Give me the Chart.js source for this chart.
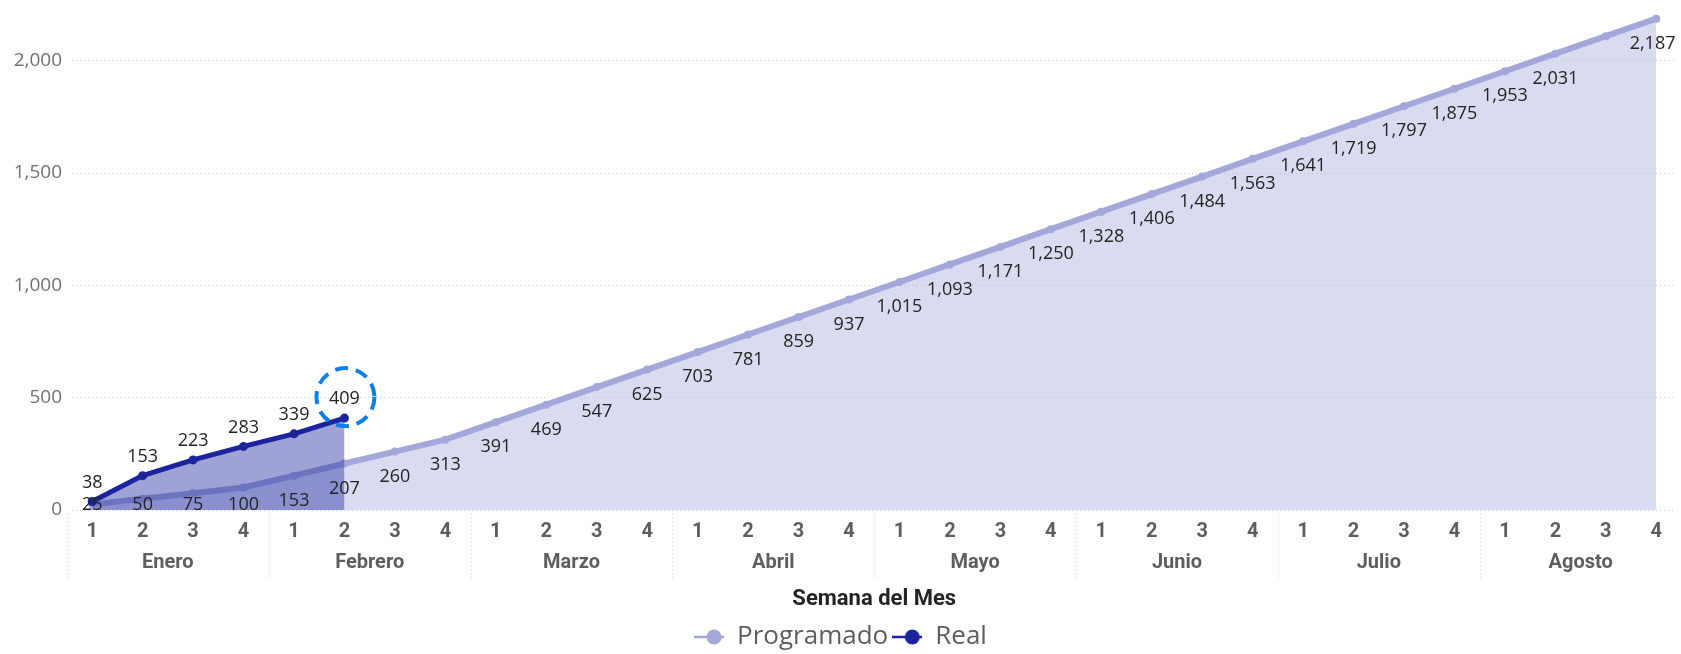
<!DOCTYPE html>
<html>
<head>
<meta charset="utf-8">
<script src="https://cdn.jsdelivr.net/npm/chart.js@4.4.1/dist/chart.umd.min.js"></script>
<style>
  html, body { margin: 0; padding: 0; background: #ffffff; }
</style>
</head>
<body>
<canvas id="chart" width="1681" height="654"></canvas>
<script>
// --- data ---
const months = ["Enero", "Febrero", "Marzo", "Abril", "Mayo", "Junio", "Julio", "Agosto"];
const weeks = ["1", "2", "3", "4"];
const weekLabels = months.flatMap(() => weeks);

const programado = [
    25, 50, 75, 100,
    153, 207, 260, 313,
    391, 469, 547, 625,
    703, 781, 859, 937,
    1015, 1093, 1171, 1250,
    1328, 1406, 1484, 1563,
    1641, 1719, 1797, 1875,
    1953, 2031, 2109, 2187,
];
const real = [38, 153, 223, 283, 339, 409];
const yTicks = [0, 500, 1000, 1500, 2000];

// the label of Agosto 3 is not shown in the reference
const programadoHiddenLabels = [30];

const COLOR_PROG = "#A3A7DA";
const COLOR_REAL = "#1B249C";

// legend marker: short line with a dot on it
function legendMarker(color) {
    const c = document.createElement("canvas");
    c.width = 30;
    c.height = 18;
    const g = c.getContext("2d");
    g.strokeStyle = color;
    g.lineWidth = 2.5;
    g.beginPath();
    g.moveTo(0, 9);
    g.lineTo(30, 9);
    g.stroke();
    g.fillStyle = color;
    g.beginPath();
    g.arc(20, 9, 7.5, 0, Math.PI * 2);
    g.fill();
    return c;
}

// value labels, Programado below the points and Real above
const valueLabels = {
    id: "valueLabels",
    afterDatasetsDraw(chart) {
        const ctx = chart.ctx;
        const area = chart.chartArea;
        ctx.save();
        ctx.font = "18px 'Open Sans'";
        ctx.fillStyle = "#252423";
        ctx.textAlign = "center";
        ctx.textBaseline = "middle";
        chart.data.datasets.forEach((ds, di) => {
            const meta = chart.getDatasetMeta(di);
            meta.data.forEach((pt, i) => {
                if (ds.hiddenLabels && ds.hiddenLabels.includes(i)) return;
                const text = ds.data[i].y.toLocaleString("en-US");
                const half = ctx.measureText(text).width / 2;
                const x = Math.min(pt.x, area.right - half - 1);
                const y = ds.labelBelow ? Math.min(pt.y + 25, area.bottom - 5) : pt.y - 19;
                ctx.fillText(text, x, y);
            });
        });
        ctx.restore();
    },
};

// dotted separators between month groups + dashed highlight circle on the last Real value
const extras = {
    id: "extras",
    afterDraw(chart) {
        const ctx = chart.ctx;
        const area = chart.chartArea;
        const xs = chart.scales.x;
        ctx.save();
        ctx.strokeStyle = "#D2D0CE";
        ctx.lineWidth = 1;
        ctx.setLineDash([1, 3]);
        for (let k = 0; k <= months.length; k++) {
            const px = Math.round(xs.getPixelForValue(k * 4 - 0.5)) + 0.5;
            ctx.beginPath();
            ctx.moveTo(px, area.bottom + 3);
            ctx.lineTo(px, area.bottom + 68);
            ctx.stroke();
        }

        const meta = chart.getDatasetMeta(1);
        const last = meta.data[real.length - 1];
        ctx.strokeStyle = "#0E7FEA";
        ctx.lineWidth = 4;
        ctx.setLineDash([13, 8]);
        ctx.beginPath();
        ctx.arc(last.x + 1, last.y - 21, 29, 0, Math.PI * 2);
        ctx.stroke();
        ctx.restore();
    },
};

const noEdgePadding = (scale) => {
    scale.paddingLeft = 0;
    scale.paddingRight = 0;
    scale.paddingTop = 0;
    scale.paddingBottom = 0;
};

new Chart(document.getElementById("chart"), {
    type: "line",
    data: {
        datasets: [
            {
                label: "Programado",
                data: programado.map((v, i) => ({ x: i, y: v })),
                borderColor: COLOR_PROG,
                backgroundColor: "rgba(163, 167, 218, 0.41)",
                borderWidth: 6,
                pointRadius: 4,
                pointBackgroundColor: COLOR_PROG,
                pointBorderWidth: 0,
                fill: "origin",
                tension: 0,
                order: 1,
                labelBelow: true,
                hiddenLabels: programadoHiddenLabels,
                legendStyle: legendMarker(COLOR_PROG),
            },
            {
                label: "Real",
                data: real.map((v, i) => ({ x: i, y: v })),
                borderColor: COLOR_REAL,
                backgroundColor: "rgba(49, 57, 166, 0.47)",
                borderWidth: 5,
                pointRadius: 4.5,
                pointBackgroundColor: COLOR_REAL,
                pointBorderWidth: 0,
                fill: "origin",
                tension: 0,
                order: 0,
                labelBelow: false,
                legendStyle: legendMarker(COLOR_REAL),
            },
        ],
    },
    options: {
        responsive: false,
        animation: false,
        layout: { padding: { top: 0, left: 0, right: 0, bottom: -6 } },
        elements: { point: { pointStyle: "circle" } },
        scales: {
            x: {
                type: "linear",
                position: "bottom",
                min: -0.4,
                max: 31.4,
                weight: 0,
                grid: { display: false },
                border: { display: false },
                afterBuildTicks: (s) => { s.ticks = weekLabels.map((_, i) => ({ value: i })); },
                afterFit: (s) => { noEdgePadding(s); s.height = 30; },
                ticks: {
                    autoSkip: false,
                    maxRotation: 0,
                    padding: 2,
                    color: "#605E5C",
                    font: { family: "Roboto", size: 20, weight: "bold" },
                    callback: (v) => weekLabels[v],
                },
            },
            x2: {
                type: "linear",
                position: "bottom",
                min: -0.4,
                max: 31.4,
                weight: 1,
                grid: { display: false },
                border: { display: false },
                afterBuildTicks: (s) => { s.ticks = months.map((_, k) => ({ value: k * 4 + 1.5 })); },
                afterFit: (s) => { noEdgePadding(s); s.height = 80; },
                ticks: {
                    autoSkip: false,
                    maxRotation: 0,
                    padding: 3,
                    color: "#605E5C",
                    font: { family: "Roboto", size: 20, weight: "bold" },
                    callback: (v) => months[(v - 1.5) / 4],
                },
                title: {
                    display: true,
                    text: "Semana del Mes",
                    color: "#252423",
                    font: { family: "Roboto", size: 22, weight: "bold" },
                    padding: { top: 4, bottom: 7 },
                },
            },
            y: {
                min: 0,
                max: 2250,
                grid: { color: "#CFCDCB", lineWidth: 1, drawTicks: false },
                border: { display: false, dash: [1, 3] },
                afterBuildTicks: (s) => { s.ticks = yTicks.map((v) => ({ value: v })); },
                afterFit: (s) => { noEdgePadding(s); s.width = 72; },
                ticks: {
                    padding: 10,
                    color: "#73716F",
                    font: { family: "Open Sans", size: 19 },
                    callback: (v) => v.toLocaleString("en-US"),
                },
            },
        },
        plugins: {
            legend: {
                position: "bottom",
                labels: {
                    usePointStyle: true,
                    pointStyleWidth: 30,
                    padding: 4,
                    color: "#605E5C",
                    font: { family: "Open Sans", size: 26 },
                    sort: (a, b) => a.datasetIndex - b.datasetIndex,
                    generateLabels: (chart) =>
                        Chart.defaults.plugins.legend.labels.generateLabels(chart).map((item) => ({
                            ...item,
                            pointStyle: chart.data.datasets[item.datasetIndex].legendStyle,
                        })),
                },
            },
            tooltip: { enabled: false },
        },
    },
    plugins: [valueLabels, extras],
});
</script>
</body>
</html>
